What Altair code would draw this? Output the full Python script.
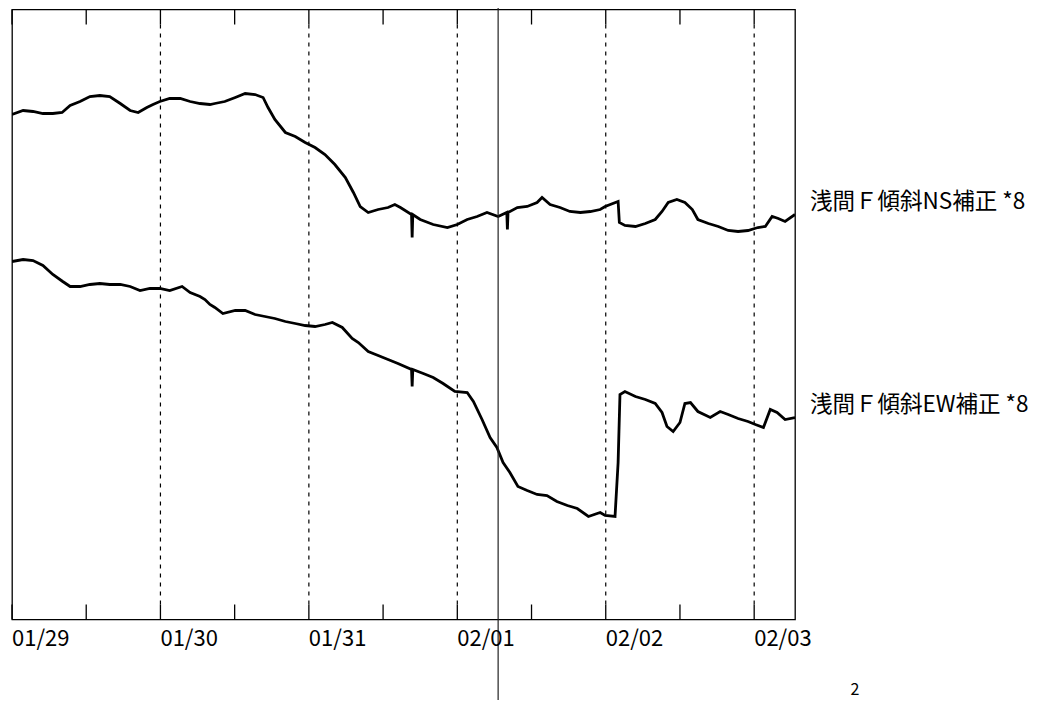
import altair as alt
import pandas as pd

# ---- data (hours since 2009-01-29 00:00, arbitrary tilt units) ----
BASE = pd.Timestamp("2009-01-29 00:00")

ns_hours = [0, 1.8, 3.4, 5.0, 6.6, 8.1, 9.4, 11.0, 12.6, 14.2, 15.8, 17.5, 19.1, 20.4, 21.8,
            22.8, 23.9, 25.5, 27.2, 28.8, 30.4, 32.0, 32.8, 34.4, 36.1, 37.7, 39.3, 40.6,
            41.4, 42.5, 44.2, 45.8, 47.4, 49.0, 50.6, 52.2, 53.9, 55.2, 56.3, 57.6, 59.2,
            60.8, 61.9, 62.8, 64.6, 64.7, 64.8, 66.0, 68.1, 70.4, 72.0, 73.6, 75.2, 76.8,
            78.6, 80.0, 80.1, 80.2, 81.7, 83.3, 84.9, 85.7, 87.0, 88.6, 90.2, 91.9, 93.5,
            95.1, 95.9, 98.0, 98.2, 99.1, 100.8, 102.4, 104.0, 105.1, 106.1, 107.5, 108.8,
            110.0, 110.9, 112.6, 114.2, 115.8, 117.4, 119.0, 120.6, 121.8, 122.9, 123.9,
            125.0, 126.6]
ns_vals = [505, 509, 508, 506, 506, 507, 514, 518, 523, 524, 523, 516, 509, 507, 512,
           515, 518, 521, 521, 518, 516, 515, 516, 518, 522, 526, 525, 522,
           512, 500, 487, 483, 477, 472, 465, 455, 442, 427, 413, 407, 410,
           412, 415, 412, 405, 382, 405, 400, 395, 392, 395, 400, 403, 407,
           403, 407, 390, 407, 412, 413, 417, 422, 415, 412, 408, 407, 408,
           410, 413, 418, 397, 394, 393, 396, 400, 408, 417, 420, 417,
           410, 400, 396, 393, 389, 388, 389, 392, 393, 403, 401,
           398, 405]

ew_hours = [0, 1.8, 3.4, 5.0, 6.6, 8.2, 9.4, 11.0, 12.6, 14.2, 15.8, 17.5, 19.1, 20.7,
            22.3, 23.9, 25.5, 27.5, 28.8, 30.4, 31.2, 32.0, 32.8, 34.1, 36.1, 37.7, 39.3,
            40.9, 42.5, 44.2, 45.8, 47.4, 49.0, 50.6, 51.8, 53.4, 55.0, 56.0, 57.6, 59.2,
            60.8, 62.4, 64.6, 64.7, 64.8, 66.5, 68.1, 69.7, 71.6, 73.6, 74.6, 76.0, 77.3,
            78.4, 79.4, 80.5, 81.8, 83.3, 84.9, 86.5, 88.1, 89.8, 91.4, 93.2, 95.1, 95.9,
            97.5, 98.0, 98.3, 99.1, 100.8, 102.4, 104.0, 105.1, 105.9, 106.9, 108.0, 108.8,
            109.7, 110.9, 112.9, 114.5, 115.8, 117.4, 119.0, 120.2, 121.5, 122.6, 123.7,
            125.0, 126.6]
ew_vals = [358, 360, 359, 354, 345, 338, 333, 333, 335, 336, 335, 335, 333, 329,
           331, 331, 329, 333, 327, 323, 320, 315, 312, 306, 309, 309, 305,
           303, 301, 298, 296, 294, 293, 295, 297, 292, 281, 277, 268, 264,
           260, 256, 250, 233, 250, 246, 242, 236, 228, 227, 218, 200, 182,
           172, 157, 147, 133, 129, 125, 124, 118, 114, 111, 103, 107, 104,
           103, 157, 225, 228, 223, 220, 216, 207, 193, 188, 197, 216,
           217, 208, 202, 208, 205, 201, 198, 195, 192, 210, 207,
           200, 202]

series_names = ["浅間Ｆ傾斜NS補正 *8", "浅間Ｆ傾斜EW補正 *8"]
tick_hours = [0, 12, 24, 36, 48, 60, 72, 84, 96, 108, 120]
grid_hours = [24, 48, 72, 96, 120]
day_label_hours = [0, 24, 48, 72, 96, 120]
day_labels = ["01/29", "01/30", "01/31", "02/01", "02/02", "02/03"]
cursor_hours = [78.6]
page_note = ["2"]

FONT = "Noto Sans CJK JP"
W, H = 783, 610


def to_time(hours):
    return BASE + pd.to_timedelta(pd.Series(hours, dtype=float), unit="h")


df = pd.concat([
    pd.DataFrame({"time": to_time(ns_hours), "v": ns_vals, "series": series_names[0]}),
    pd.DataFrame({"time": to_time(ew_hours), "v": ew_vals, "series": series_names[1]}),
], ignore_index=True)

ends = pd.DataFrame({
    "time": [to_time(ns_hours).iloc[-1], to_time(ew_hours).iloc[-1]],
    "v": [ns_vals[-1], ew_vals[-1]],
    "label": series_names,
})
ticks_df = pd.DataFrame({"time": to_time(tick_hours)})
grid_df = pd.DataFrame({"time": to_time(grid_hours)})
daylab_df = pd.DataFrame({"time": to_time(day_label_hours), "label": day_labels})
cursor_df = pd.DataFrame({"time": to_time(cursor_hours)})
note_df = pd.DataFrame({"t": page_note})

x_scale = alt.Scale(
    domain=[alt.DateTime(year=2009, month=1, date=29, hours=0),
            alt.DateTime(year=2009, month=2, date=3, hours=6, minutes=36)],
    nice=False,
)
y_scale = alt.Scale(domain=[0, 610], nice=False, zero=False)

xs = alt.X("time:T", scale=x_scale, axis=None)

lines = alt.Chart(df).mark_line(color="black", strokeWidth=2.8, clip=True).encode(
    x=xs,
    y=alt.Y("v:Q", scale=y_scale, axis=None),
    detail="series:N",
)

top_ticks = alt.Chart(ticks_df).mark_rule(color="black", strokeWidth=1.3).encode(
    x=xs, y=alt.value(0), y2=alt.value(15))
bottom_ticks = alt.Chart(ticks_df).mark_rule(color="black", strokeWidth=1.3).encode(
    x=xs, y=alt.value(H - 15), y2=alt.value(H))
grid = alt.Chart(grid_df).mark_rule(color="black", strokeWidth=1.2, strokeDash=[4, 5]).encode(
    x=xs, y=alt.value(15), y2=alt.value(H - 15))
cursor = alt.Chart(cursor_df).mark_rule(color="#222", strokeWidth=1.2, clip=False).encode(
    x=xs, y=alt.value(-2), y2=alt.value(H + 90))

day_text = alt.Chart(daylab_df).mark_text(
    align="left", baseline="top", font=FONT, fontSize=22, color="black", dy=9
).encode(x=xs, y=alt.value(H), text="label:N")

labels = alt.Chart(ends).mark_text(
    align="left", baseline="middle", dx=15, dy=-13, font=FONT, fontSize=22.5, color="black"
).encode(x=xs, y=alt.Y("v:Q", scale=y_scale, axis=None), text="label:N")

note = alt.Chart(note_df).mark_text(
    align="center", baseline="middle", font=FONT, fontSize=16, color="black"
).encode(x=alt.value(843), y=alt.value(H + 70), text="t:N")

chart = alt.layer(grid, top_ticks, bottom_ticks, lines, cursor, day_text, labels, note).properties(
    width=W, height=H,
    autosize=alt.AutoSizeParams(type="none"),
    padding={"left": 4, "top": 1.5, "right": 234, "bottom": 80},
    background="white",
).configure_view(stroke="black", strokeWidth=1.3)

chart.save("out.html", embed_options={"renderer": "svg", "actions": False})
